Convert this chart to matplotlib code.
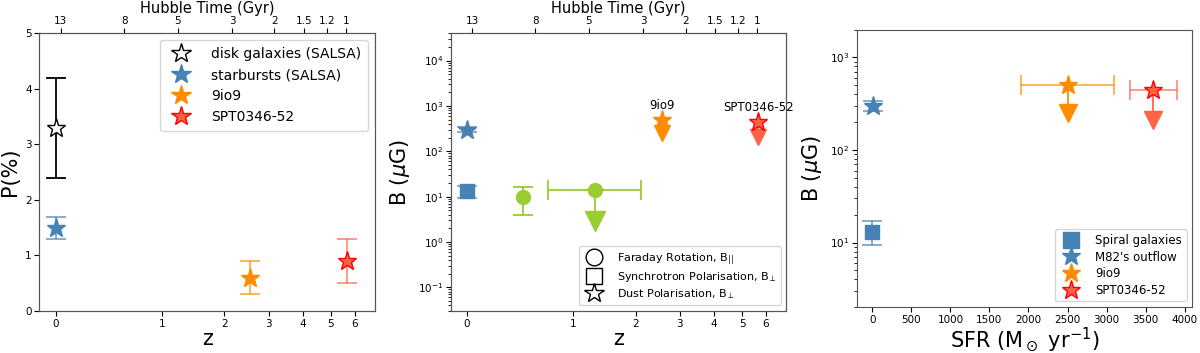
import matplotlib.pyplot as plt
import matplotlib.colors as mcolors
from matplotlib.ticker import NullLocator, FixedLocator
import numpy as np

# Дані: поляризація (ліва панель)
p_names = ['disk galaxies (SALSA)', 'starbursts (SALSA)', '9io9', 'SPT0346-52']
p_z = [0.0, 0.0, 2.553, 5.656]
p_val = [3.3, 1.5, 0.6, 0.9]
p_err = [0.9, 0.2, 0.3, 0.4]

# Дані: магнітне поле проти z (середня панель)
spiral_z, spiral_b, spiral_err = 0.0, 13.0, [[3.5], [4.0]]
m82_z, m82_b, m82_err = 0.0, 300.0, 35.0
far_z = [0.44, 1.3]
far_b = [10.0, 14.0]
far_zerr = [[0.0, 0.61], [0.0, 0.8]]
far_berr = [6.0, 0.0]
far_lim = [None, 2.9]
dust_names = ['9io9', 'SPT0346-52']
dust_z = [2.553, 5.656]
dust_b = [500.0, 450.0]
dust_lim = [250.0, 210.0]

# Дані: магнітне поле проти SFR (права панель)
spiral_sfr = 1.0
m82_sfr = 10.0
dust_sfr = [2500.0, 3600.0]
dust_sfr_err = [600.0, 300.0]

hubble_ticks = [13, 8, 5, 3, 2, 1.5, 1.2, 1]

blue = '#4682B4'
orange = 'darkorange'
red = '#FF6347'
green = 'yellowgreen'


def light(c, a=0.7):
    return mcolors.to_rgba(c, a)


def age_to_z(t):
    # плоска LCDM, H0=70, Om=0.3
    A, B = 11.13, 1.5275
    return (B / np.sinh(t / A)) ** (2 / 3) - 1


fwd = lambda z: np.log10(1 + np.asarray(z, dtype=float))
inv = lambda t: 10 ** np.asarray(t, dtype=float) - 1


def setup_z_axis(ax):
    ax.set_xscale('function', functions=(fwd, inv))
    ax.set_xlim(-0.1, 7)
    ax.xaxis.set_major_locator(FixedLocator([0, 1, 2, 3, 4, 5, 6]))
    ax.xaxis.set_minor_locator(NullLocator())
    ax.set_xlabel('z', fontsize=15, labelpad=0)
    top = ax.twiny()
    top.set_xscale('function', functions=(fwd, inv))
    top.set_xlim(-0.1, 7)
    top.set_xticks([age_to_z(t) for t in hubble_ticks])
    top.set_xticklabels([str(t) for t in hubble_ticks])
    top.xaxis.set_minor_locator(NullLocator())
    top.set_xlabel('Hubble Time (Gyr)', fontsize=10.5, labelpad=2)
    top.tick_params(labelsize=7.5, pad=2)
    for s in top.spines.values():
        s.set_color('#555555')
    return top


def star_handle(fc, ec, m='*', s=14):
    return plt.Line2D([], [], ls='none', marker=m, ms=s, mfc=fc, mec=ec)


fig = plt.figure(figsize=(12, 3.53), dpi=100)
ax1 = fig.add_axes([0.0328, 0.119, 0.2798, 0.7867])
ax2 = fig.add_axes([0.3756, 0.119, 0.2798, 0.7867])
ax3 = fig.add_axes([0.7139, 0.1295, 0.2798, 0.7867])

ms = 14
cap = 7

# 1. Ліва панель
styles = [dict(mfc='white', mec='k', ecolor='k'),
          dict(mfc=blue, mec=blue, ecolor=light(blue)),
          dict(mfc=orange, mec=orange, ecolor=light(orange)),
          dict(mfc=red, mec='red', ecolor=light(red))]
for i in range(4):
    ax1.errorbar(p_z[i], p_val[i], yerr=p_err[i], fmt='*', ms=ms, capsize=cap,
                 elinewidth=1.3, capthick=1.3, **styles[i])
setup_z_axis(ax1)
ax1.set_ylim(0, 5)
ax1.set_ylabel('P(%)', fontsize=15)
h1 = [star_handle(st['mfc'], st['mec'], s=15) for st in styles]
ax1.legend(h1, p_names, loc='upper right', fontsize=10, handletextpad=1.2, borderpad=0.5)

# 2. Середня панель
ax2.set_yscale('log')
ax2.errorbar(spiral_z, spiral_b, yerr=spiral_err, fmt='s', ms=10, color=blue,
             ecolor=light(blue), capsize=cap, elinewidth=1.3, capthick=1.3)
ax2.errorbar(m82_z, m82_b, yerr=m82_err, fmt='*', ms=ms, color=blue,
             ecolor=light(blue), capsize=cap, elinewidth=1.3, capthick=1.3)
for i in range(2):
    ax2.errorbar(far_z[i], far_b[i], xerr=[[far_zerr[0][i]], [far_zerr[1][i]]],
                 yerr=far_berr[i], fmt='o', ms=10, color=green, ecolor=green,
                 capsize=cap, elinewidth=1.3, capthick=1.3)
    if far_lim[i] is not None:
        ax2.plot([far_z[i], far_z[i]], [far_b[i], far_lim[i]], color=green, lw=1.3)
        ax2.plot(far_z[i], far_lim[i], 'v', ms=15, color=green)
dcol = [orange, red]
dedge = [orange, 'red']
for i in range(2):
    ax2.plot([dust_z[i], dust_z[i]], [dust_b[i], dust_lim[i]], color=dcol[i], lw=1.3)
    ax2.plot(dust_z[i], dust_lim[i], 'v', ms=12, color=dcol[i])
    ax2.plot(dust_z[i], dust_b[i], '*', ms=ms, mfc=dcol[i], mec=dedge[i])
    ax2.text(dust_z[i], dust_b[i] * 1.45, dust_names[i], ha='center', va='bottom', fontsize=8.5)
setup_z_axis(ax2)
ax2.set_ylim(0.03, 4e4)
ax2.set_ylabel(r'B ($\mu$G)', fontsize=15)
h2 = [star_handle('none', 'k', m, s) for m, s in [('o', 12), ('s', 12), ('*', 15)]]
ax2.legend(h2, [r'Faraday Rotation, B$_{||}$', r'Synchrotron Polarisation, B$_\perp$',
                r'Dust Polarisation, B$_\perp$'],
           loc='lower right', fontsize=8, handletextpad=1.0, labelspacing=0.3)

# 3. Права панель
ax3.set_yscale('log')
ax3.errorbar(spiral_sfr, spiral_b, yerr=spiral_err, fmt='s', ms=10, color=blue,
             ecolor=light(blue), capsize=cap, elinewidth=1.3, capthick=1.3)
ax3.errorbar(m82_sfr, m82_b, yerr=m82_err, fmt='*', ms=ms, color=blue,
             ecolor=light(blue), capsize=cap, elinewidth=1.3, capthick=1.3)
for i in range(2):
    ax3.plot([dust_sfr[i], dust_sfr[i]], [dust_b[i], dust_lim[i]], color=dcol[i], lw=1.3)
    ax3.plot(dust_sfr[i], dust_lim[i], 'v', ms=13, color=dcol[i])
    ax3.errorbar(dust_sfr[i], dust_b[i], xerr=dust_sfr_err[i], fmt='*', ms=ms,
                 mfc=dcol[i], mec=dedge[i], ecolor=light(dcol[i]), capsize=cap,
                 elinewidth=1.3, capthick=1.3)
ax3.set_xlim(-200, 4100)
ax3.set_ylim(2, 2000)
ax3.set_xlabel(r'SFR (M$_\odot$ yr$^{-1}$)', fontsize=15, labelpad=0)
ax3.set_ylabel(r'B ($\mu$G)', fontsize=15)
h3 = [star_handle(blue, blue, 's', 12), star_handle(blue, blue),
      star_handle(orange, orange), star_handle(red, 'red')]
ax3.legend(h3, ['Spiral galaxies', "M82's outflow", '9io9', 'SPT0346-52'],
           loc='lower right', fontsize=8.5, handletextpad=1.0, labelspacing=0.3)

for ax in [ax1, ax2, ax3]:
    ax.tick_params(labelsize=7.5, pad=2)
    for s in ax.spines.values():
        s.set_color('#555555')

plt.savefig('out.png', dpi=100)
